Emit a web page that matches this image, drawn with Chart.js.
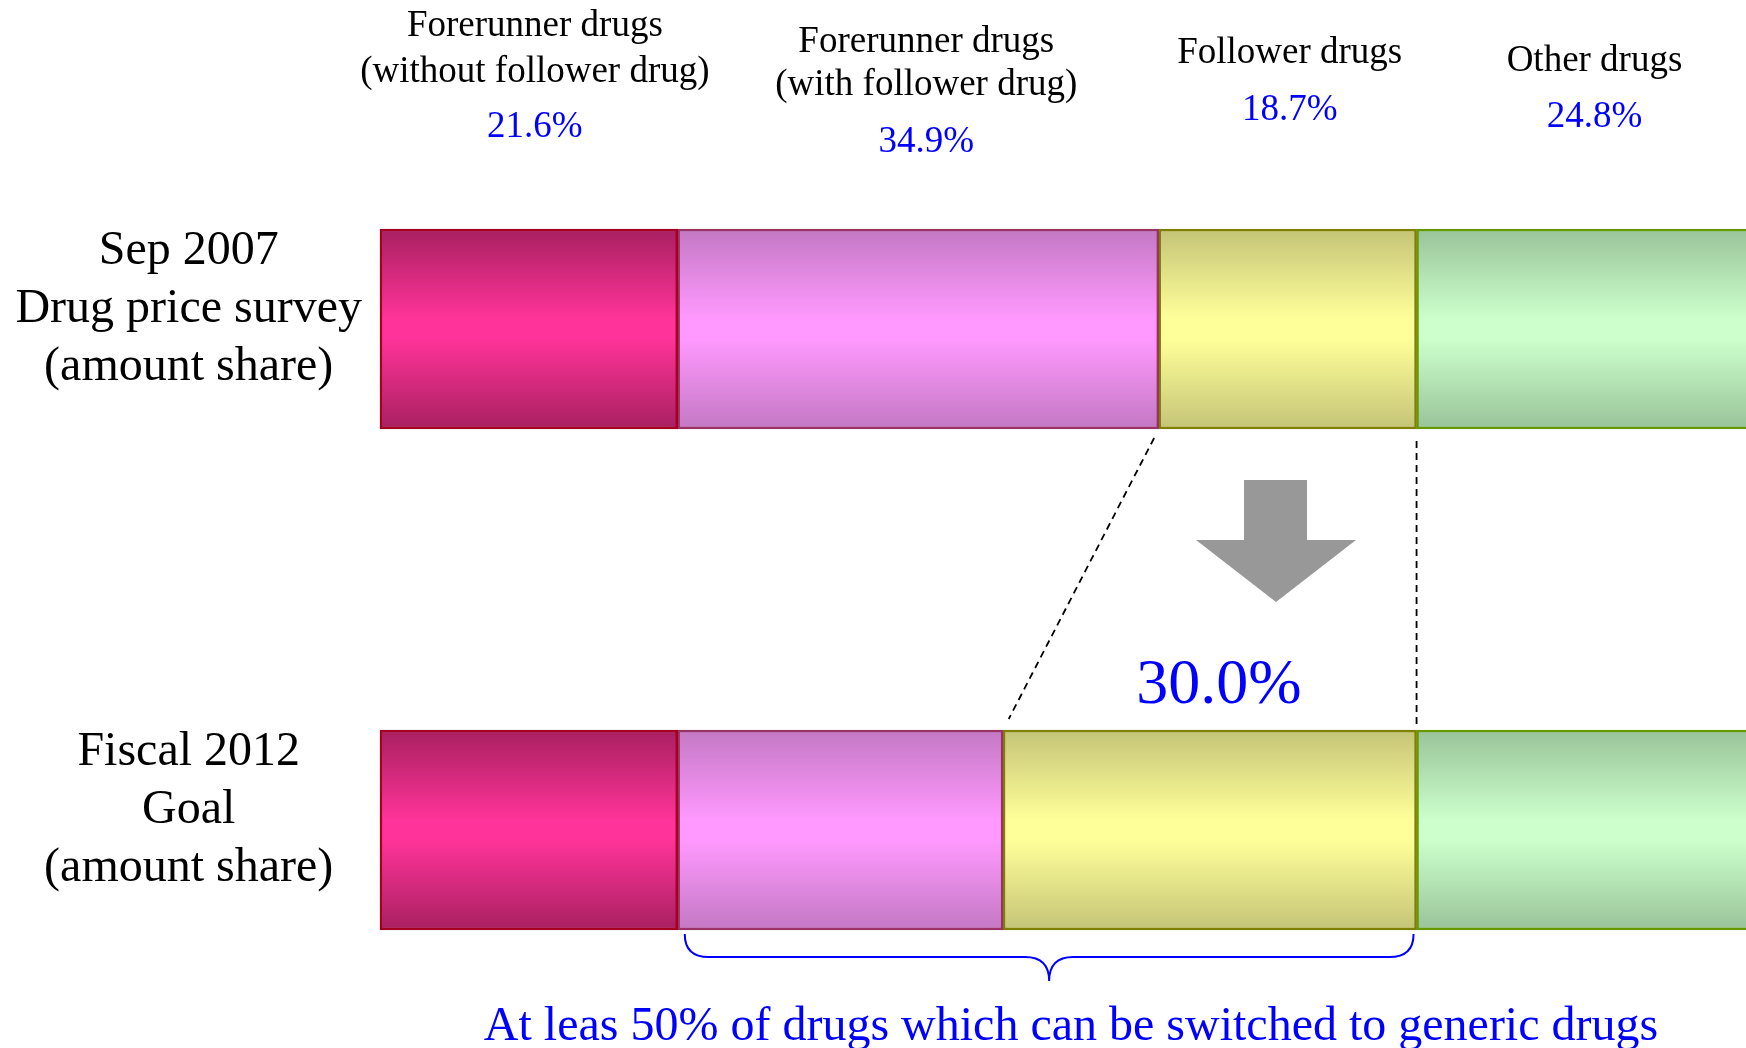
<!DOCTYPE html>
<html>
<head>
<meta charset="utf-8">
<script src="https://cdn.jsdelivr.net/npm/chart.js@4.4.1/dist/chart.umd.min.js"></script>
<style>
  html, body { margin: 0; padding: 0; background: #ffffff; }
  #wrap { width: 1746px; height: 1048px; position: relative; }
</style>
</head>
<body>
<div id="wrap"><canvas id="share-chart"></canvas></div>
<script>
// categories (rows) and series (segments)
const categories = [
  ["Sep 2007", "Drug price survey", "(amount share)"],
  ["Fiscal 2012", "Goal", "(amount share)"],
];
const seriesNames = [
  ["Forerunner drugs", "(without follower drug)"],
  ["Forerunner drugs", "(with follower drug)"],
  ["Follower drugs"],
  ["Other drugs"],
];
const forerunnerWithout = [21.6, 21.6];
const forerunnerWith = [34.9, 23.6];
const followerDrugs = [18.7, 30.0];
const otherDrugs = [24.8, 24.8];
const goalNote = "At leas 50% of drugs which can be switched to generic drugs";

// styling
const edgeColors = ["#a82060", "#c378c3", "#c4c478", "#99c399"];
const midColors = ["#ff3399", "#ff99ff", "#ffff99", "#ccffcc"];
const borderColors = ["#a50021", "#993366", "#808000", "#669900"];
const headerBaselines = [[36, 82, 137], [52, 95, 152], [63, 120], [71, 127]];
const headerShift = [6, 8, 2, 7];
const serif = "'Liberation Serif', 'Times New Roman', serif";
const BAR = 200;

const seriesValues = [forerunnerWithout, forerunnerWith, followerDrugs, otherDrugs];

function segmentGradient(i) {
  return (ctx) => {
    const yScale = ctx.chart.scales.y;
    if (!yScale || ctx.dataIndex === undefined) return midColors[i];
    const c = yScale.getPixelForValue(ctx.dataIndex);
    if (!isFinite(c)) return midColors[i];
    const g = ctx.chart.ctx.createLinearGradient(0, c - BAR / 2, 0, c + BAR / 2);
    g.addColorStop(0, edgeColors[i]);
    g.addColorStop(0.45, midColors[i]);
    g.addColorStop(0.55, midColors[i]);
    g.addColorStop(1, edgeColors[i]);
    return g;
  };
}

function startOf(series, row) {
  let s = 0;
  for (let k = 0; k < series; k++) s += seriesValues[k][row];
  return s;
}

const annotations = {
  id: "annotations",
  afterDraw(chart) {
    const { ctx } = chart;
    const x = chart.scales.x;
    const y = chart.scales.y;
    const topBottom = y.getPixelForValue(0) + BAR / 2;
    const lowTop = y.getPixelForValue(1) - BAR / 2;
    const lowBottom = y.getPixelForValue(1) + BAR / 2;

    ctx.save();
    ctx.textAlign = "center";
    ctx.textBaseline = "alphabetic";

    // column headers with first-row shares
    seriesNames.forEach((lines, i) => {
      const cx = x.getPixelForValue(startOf(i, 0) + seriesValues[i][0] / 2) + headerShift[i];
      const base = headerBaselines[i];
      ctx.font = "37px " + serif;
      ctx.fillStyle = "#000000";
      lines.forEach((t, j) => ctx.fillText(t, cx, base[j]));
      ctx.fillStyle = "#0000ff";
      ctx.fillText(seriesValues[i][0].toFixed(1) + "%", cx, base[lines.length]);
    });

    // dashed connectors for the follower segment
    const diagTop = x.getPixelForValue(startOf(2, 0));
    const diagLow = x.getPixelForValue(startOf(2, 1));
    const rightEdge = x.getPixelForValue(startOf(3, 0));
    ctx.strokeStyle = "#000000";
    ctx.lineWidth = 1.8;
    ctx.setLineDash([7, 5]);
    const span = lowTop - topBottom;
    const t0 = 9 / span, t1 = (span - 11) / span;
    ctx.beginPath();
    ctx.moveTo(diagTop + (diagLow - diagTop) * t0, topBottom + span * t0);
    ctx.lineTo(diagTop + (diagLow - diagTop) * t1, topBottom + span * t1);
    ctx.moveTo(rightEdge, topBottom + 12);
    ctx.lineTo(rightEdge, lowTop - 6);
    ctx.stroke();
    ctx.setLineDash([]);

    // grey down arrow
    ctx.fillStyle = "#989898";
    ctx.beginPath();
    ctx.moveTo(1244, 480);
    ctx.lineTo(1307, 480);
    ctx.lineTo(1307, 540);
    ctx.lineTo(1356, 540);
    ctx.lineTo(1276, 602);
    ctx.lineTo(1196, 540);
    ctx.lineTo(1244, 540);
    ctx.closePath();
    ctx.fill();

    // goal share of follower drugs
    ctx.fillStyle = "#0000ff";
    ctx.font = "64px " + serif;
    const fx = x.getPixelForValue(startOf(2, 1) + followerDrugs[1] / 2) + 9;
    ctx.fillText(followerDrugs[1].toFixed(1) + "%", fx, 703);

    // brace under the switchable segments
    const bx0 = x.getPixelForValue(startOf(1, 1)) + 7;
    const bx1 = x.getPixelForValue(startOf(3, 1)) - 3;
    const bm = (bx0 + bx1) / 2;
    const by0 = lowBottom + 4, by1 = lowBottom + 27, by2 = lowBottom + 51;
    const r = 24;
    ctx.strokeStyle = "#0000ff";
    ctx.lineWidth = 2;
    ctx.beginPath();
    ctx.moveTo(bx0, by0);
    ctx.quadraticCurveTo(bx0, by1, bx0 + r, by1);
    ctx.lineTo(bm - r, by1);
    ctx.quadraticCurveTo(bm, by1, bm, by2);
    ctx.quadraticCurveTo(bm, by1, bm + r, by1);
    ctx.lineTo(bx1 - r, by1);
    ctx.quadraticCurveTo(bx1, by1, bx1, by0);
    ctx.stroke();

    ctx.font = "48px " + serif;
    ctx.fillText(goalNote, 1071, 1040);
    ctx.restore();
  },
};

new Chart(document.getElementById("share-chart"), {
  type: "bar",
  data: {
    labels: categories,
    datasets: seriesValues.map((vals, i) => ({
      label: seriesNames[i].join(" "),
      data: vals,
      backgroundColor: segmentGradient(i),
      borderColor: borderColors[i],
      borderWidth: 2.5,
      borderSkipped: false,
      barThickness: BAR,
      clip: false,
    })),
  },
  options: {
    indexAxis: "y",
    responsive: true,
    maintainAspectRatio: false,
    animation: false,
    layout: { padding: { top: 329, bottom: 218, left: 0, right: 0 } },
    plugins: { legend: { display: false }, tooltip: { enabled: false } },
    scales: {
      x: { stacked: true, min: 0, max: 99.1, display: false },
      y: {
        stacked: true,
        offset: false,
        grid: { display: false, drawTicks: false },
        border: { display: false },
        afterFit: (scale) => { scale.width = 380; },
        ticks: {
          crossAlign: "center",
          padding: 18,
          labelOffset: -20,
          color: "#000000",
          font: { family: serif, size: 48, lineHeight: 58 / 48 },
        },
      },
    },
  },
  plugins: [annotations],
});
</script>
</body>
</html>
